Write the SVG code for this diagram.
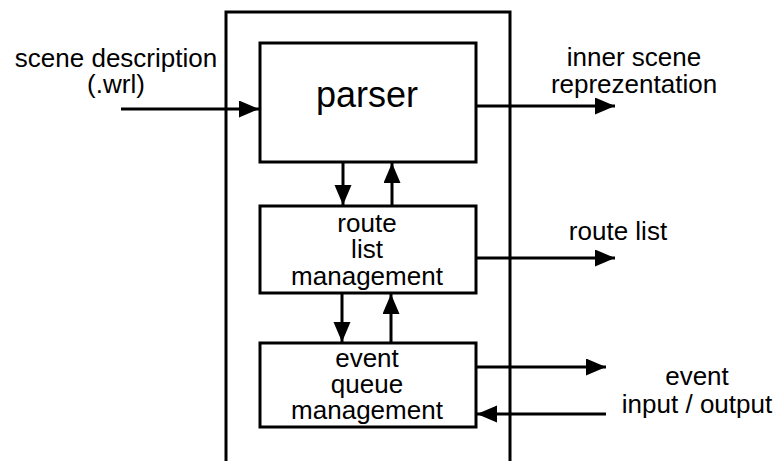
<svg xmlns="http://www.w3.org/2000/svg" width="779" height="461" viewBox="0 0 779 461">
  <defs>
    <marker id="arrow" markerUnits="userSpaceOnUse" markerWidth="22" markerHeight="18" refX="20" refY="8.5" orient="auto">
      <path d="M0,0 L20,8.5 L0,17 Z" fill="#000"/>
    </marker>
    <style>
      .box { fill: #fff; stroke: #000; stroke-width: 3; }
      .frame { fill: none; stroke: #000; stroke-width: 3; }
      .link { fill: none; stroke: #000; stroke-width: 3; marker-end: url(#arrow); }
      text { font-family: "Liberation Sans", Arial, sans-serif; font-size: 26px; fill: #000; text-anchor: middle; }
      .big { font-size: 36px; }
    </style>
  </defs>

  <rect width="779" height="461" fill="#fff"/>

  <!-- enclosing module frame, open at the bottom -->
  <path id="frame" class="frame" d="M226,470 V12 H510 V470"/>

  <!-- connectors -->
  <g id="connectors">
    <line class="link" x1="121" y1="109" x2="259" y2="109"/>
    <line class="link" x1="476" y1="106" x2="615" y2="106"/>
    <line class="link" x1="343" y1="163" x2="343" y2="205"/>
    <line class="link" x1="392" y1="206" x2="392" y2="163"/>
    <line class="link" x1="476" y1="258" x2="615" y2="258"/>
    <line class="link" x1="342" y1="294" x2="342" y2="342"/>
    <line class="link" x1="391" y1="342" x2="391" y2="294"/>
    <line class="link" x1="476" y1="367" x2="606" y2="367"/>
    <line class="link" x1="606" y1="414" x2="477" y2="414"/>
  </g>

  <!-- nodes -->
  <g id="parser">
    <rect class="box" x="260" y="43" width="216" height="119"/>
    <text class="big" x="367" y="107">parser</text>
  </g>

  <g id="route-list">
    <rect class="box" x="260" y="206" width="216" height="87"/>
    <text x="367" y="232">route</text>
    <text x="367" y="258">list</text>
    <text x="367" y="285">management</text>
  </g>

  <g id="event-queue">
    <rect class="box" x="260" y="343" width="216" height="84"/>
    <text x="367" y="367">event</text>
    <text x="367" y="393">queue</text>
    <text x="367" y="419">management</text>
  </g>

  <!-- external labels -->
  <g id="labels">
    <text x="116" y="67">scene description</text>
    <text x="116" y="93">(.wrl)</text>
    <text x="634" y="66">inner scene</text>
    <text x="634" y="93">reprezentation</text>
    <text x="618" y="240">route list</text>
    <text x="697" y="385">event</text>
    <text x="697" y="413">input / output</text>
  </g>
</svg>
